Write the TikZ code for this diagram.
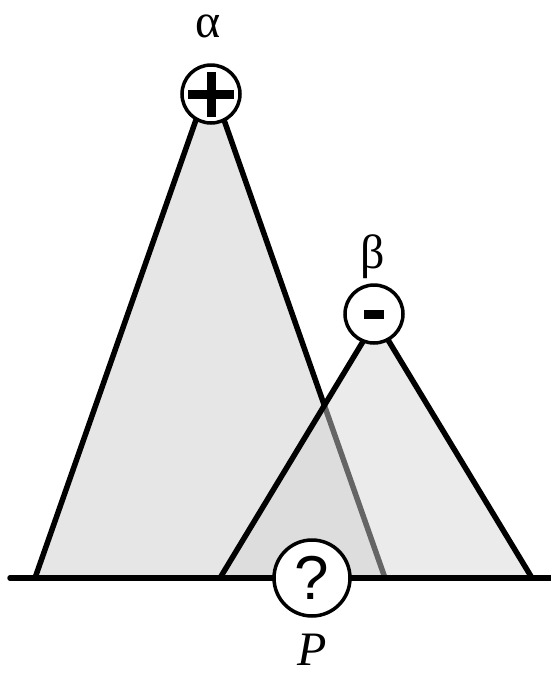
\documentclass[tikz,border=0pt]{standalone}
\usepackage{fontspec}
\setmainfont{Liberation Serif}
\newfontfamily\qfont{Liberation Sans}
\begin{document}
\begin{tikzpicture}[x=1pt,y=-1pt,
  edge/.style={line width=5.5pt,line join=round},
  sign/.style={circle,draw,fill=white,line width=3.5pt,minimum size=58pt,inner sep=0pt},
  lbl/.style={font=\fontsize{48}{50}\selectfont,inner sep=0pt}]
\useasboundingbox (0,0) rectangle (551,673);
\definecolor{bigfill}{gray}{0.902}
\definecolor{smallfill}{gray}{0.835}
% coordinates
\coordinate (A) at (210,80);
\coordinate (AL) at (35,578);
\coordinate (AR) at (385,578);
\coordinate (B) at (376,320);
\coordinate (BL) at (220,578);
\coordinate (BR) at (532,578);
\coordinate (L0) at (10,578);
\coordinate (L1) at (551,578);
% big triangle
\fill[bigfill] (AL) -- (A) -- (AR) -- cycle;
\draw[edge] (AL) -- (A) -- (AR);
% small triangle (translucent)
\fill[smallfill,fill opacity=0.48] (BL) -- (B) -- (BR) -- cycle;
\draw[edge] (BL) -- (B) -- (BR);
% base line
\draw[line width=5.5pt,line cap=round] (L0) -- (L1);
% sign circles
\node[sign] (plus) at (211,94) {};
\fill ([xshift=-23pt,yshift=-4.5pt]plus.center) rectangle ([xshift=23pt,yshift=4.5pt]plus.center);
\fill ([xshift=-4.5pt,yshift=-22.5pt]plus.center) rectangle ([xshift=4.5pt,yshift=22.5pt]plus.center);
\node[sign] (minus) at (374,314) {};
\fill ([xshift=-10pt,yshift=-4.5pt]minus.center) rectangle ([xshift=10pt,yshift=4.5pt]minus.center);
\node[sign,minimum size=76pt] (q) at (312,578) {\qfont\fontsize{62}{64}\selectfont ?};
% labels
\node[lbl] (alpha) at (208,26) {α};
\node[lbl] (beta) at (373,257) {β};
\node[lbl] (P) at (312,650) {\itshape P};
\end{tikzpicture}
\end{document}
